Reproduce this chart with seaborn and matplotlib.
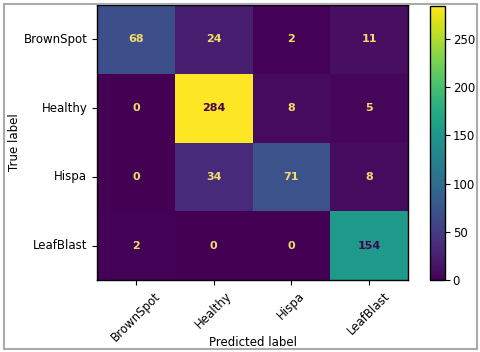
import numpy as np
import pandas as pd
import matplotlib
matplotlib.use("Agg")
import matplotlib.pyplot as plt
import seaborn as sns
from matplotlib.patches import Rectangle

classes = ["BrownSpot", "Healthy", "Hispa", "LeafBlast"]
row_brownspot = [68, 24, 2, 11]
row_healthy = [0, 284, 8, 5]
row_hispa = [0, 34, 71, 8]
row_leafblast = [2, 0, 0, 154]

cm = pd.DataFrame([row_brownspot, row_healthy, row_hispa, row_leafblast],
                  index=classes, columns=classes)

W, H = 480, 352
fig = plt.figure(figsize=(W / 100, H / 100), dpi=100)
ax = fig.add_axes([97 / W, 1 - 280 / H, 311 / W, 275 / H])
cax = fig.add_axes([430 / W, 1 - 280 / H, 15 / W, 274 / H])

fs = 8.5
sns.heatmap(cm, ax=ax, cbar_ax=cax, cmap="viridis", annot=True, fmt="d",
            vmin=0, vmax=cm.values.max(),
            annot_kws={"fontsize": 8, "fontweight": "bold"})

vmax = cm.values.max()
cmap = plt.get_cmap("viridis")
vals = cm.values.flatten()
for t, v in zip(ax.texts, vals):
    t.set_color(cmap(0.0) if v > vmax / 2 else "#f2dc6a")

for s in ax.spines.values():
    s.set_visible(True)
    s.set_color("black")
    s.set_linewidth(1.0)

ax.tick_params(axis="both", length=3.5, width=0.8, labelsize=fs, color="black")
ax.set_xticklabels(classes, rotation=45, ha="center")
ax.set_yticklabels(classes, rotation=0)
ax.set_xlabel("Predicted label", fontsize=fs)
ax.set_ylabel("True label", fontsize=fs)
ax.xaxis.set_label_coords(0.5, -0.205)
ax.yaxis.set_label_coords(-0.245, 0.5)

cax.set_yticks([0, 50, 100, 150, 200, 250])
cax.tick_params(labelsize=fs, length=3.5, width=0.8, pad=2)
cb = ax.collections[0].colorbar
cb.outline.set_visible(True)
cb.outline.set_edgecolor("black")
cb.outline.set_linewidth(1.0)

fig.patches.append(Rectangle((4 / W, 3 / H), 473 / W, 345 / H, transform=fig.transFigure,
                             fill=False, edgecolor="#aaaaaa", linewidth=1.5))

fig.savefig("out.png", dpi=100)
